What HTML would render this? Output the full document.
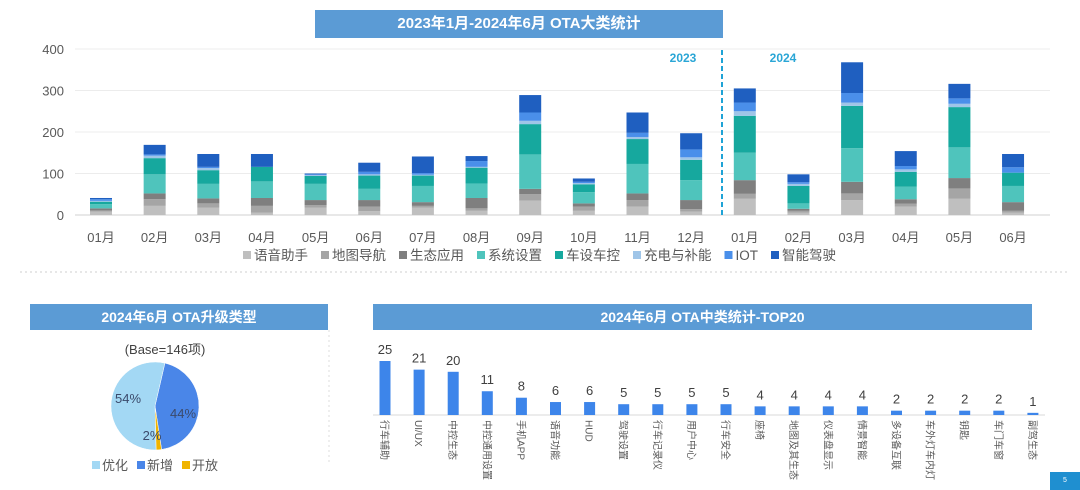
<!DOCTYPE html>
<html><head><meta charset="utf-8">
<style>
body{margin:0;width:1080px;height:490px;background:#fff;overflow:hidden;font-family:"Liberation Sans","Noto Sans CJK SC",sans-serif;position:relative}
.banner{position:absolute;background:#5b9bd5;color:#fff;font-weight:bold;text-align:center;font-size:15px}
svg{position:absolute;left:0;top:0}
</style></head><body>
<div class="banner" style="left:315px;top:10px;width:408px;height:28px;line-height:28px">2023年1月-2024年6月 OTA大类统计</div>
<div class="banner" style="left:30px;top:304px;width:298px;height:26px;line-height:26px;font-size:14px">2024年6月 OTA升级类型</div>
<div class="banner" style="left:373px;top:304px;width:659px;height:26px;line-height:26px;font-size:14px">2024年6月 OTA中类统计-TOP20</div>
<div style="position:absolute;left:1050px;top:472px;width:30px;height:18px;background:#1f8fd0;color:#fff;font-size:7px;text-align:center;line-height:18px">5</div>
<svg id="main" width="1080" height="490"></svg>
<script>
const months=["01月","02月","03月","04月","05月","06月","07月","08月","09月","10月","11月","12月","01月","02月","03月","04月","05月","06月"];
const seriesNames=["语音助手","地图导航","生态应用","系统设置","车设车控","充电与补能","IOT","智能驾驶"];
const voice=[8,22,18,6,18,9,18,10,35,10,20,8,39,6,36,20,39,6];
const mapNav=[3,16,10,16,6,11,4,6,15,10,16,6,12,4,16,7,25,4];
const eco=[5,14,12,19,12,16,9,25,13,8,16,22,33,5,28,11,25,21];
const sysSet=[10,46,35,40,39,27,39,35,83,27,71,48,66,13,81,30,74,39];
const carCtrl=[6,39,33,35,19,32,25,38,73,19,60,49,89,42,102,36,97,32];
const charge=[2,6,5,0,2,3,2,2,8,3,5,6,11,5,8,6,8,0];
const iot=[4,3,3,0,2,6,4,14,20,3,10,19,21,4,23,8,13,13];
const adas=[3,23,31,31,2,22,40,12,42,8,49,39,34,19,74,36,35,32];
const yTicks=[0,100,200,300,400];
const pieLabels=["新增","开放","优化"];
const pieValues=[44,2,54];
const topCats=["行车辅助","UI/UX","中控生态","中控通用设置","手机APP","语音功能","HUD","驾驶设置","行车记录仪","用户中心","行车安全","座椅","地图及其生态","仪表盘显示","情景智能","多设备互联","车外灯车内灯","钥匙","车门车窗","副驾生态"];
const topVals=[25,21,20,11,8,6,6,5,5,5,5,4,4,4,4,2,2,2,2,1];

const NS="http://www.w3.org/2000/svg";
const svg=document.getElementById('main');
function mk(tag,attrs,parent){const e=document.createElementNS(NS,tag);for(const k in attrs)e.setAttribute(k,attrs[k]);(parent||svg).appendChild(e);return e;}
const colors=["#bfbfbf","#a5a5a5","#7f7f7f","#4fc4bc","#16a89e","#9fc5e8","#4a8fea","#1f5fc0"];
const series=[voice,mapNav,eco,sysSet,carCtrl,charge,iot,adas];
const y0=215,yTop=49,yMax=400;
const yS=v=>y0-(v/yMax)*(y0-yTop);
const xS=i=>101+i*53.65;
yTicks.forEach(t=>{
  const g=mk('line',{x1:75,x2:1050,y1:yS(t),y2:yS(t),stroke:t==0?'#d0d0d0':'#ececec','stroke-width':1});
  
  
  const tx=mk('text',{x:64,y:yS(t)+5,'text-anchor':'end','font-size':13,fill:'#595959'});
  tx.textContent=t;
  
  
});
months.forEach((m,i)=>{
  let acc=0;
  series.forEach((s,k)=>{
    const v=s[i];if(v<=0)return;
    const r=mk('rect',{x:xS(i)-11,y:yS(acc+v),width:22,height:yS(acc)-yS(acc+v),fill:colors[k]});
    
    
    acc+=v;
  });
  const t=mk('text',{x:xS(i),y:242,'text-anchor':'middle','font-size':13,fill:'#595959'});
  t.textContent=m;
  
  
});
const dl=mk('line',{x1:722,x2:722,y1:50,y2:215,stroke:'#1fa3d6','stroke-width':2,'stroke-dasharray':'5,3'});


[["2023",683],["2024",783]].forEach(([t,x])=>{
  const e=mk('text',{x:x,y:62,'text-anchor':'middle','font-size':12,'font-weight':'bold',fill:'#2aa6d6'});
  e.textContent=t;
  
  
});
let lx=243;
seriesNames.forEach((n,k)=>{
  const r=mk('rect',{x:lx,y:251,width:8,height:8,fill:colors[k]});
  
  
  const t=mk('text',{x:lx+11,y:260,'font-size':13.5,fill:'#595959'});
  t.textContent=n;
  
  
  lx+=14+t.getComputedTextLength()+10;
});
const sep=mk('line',{x1:20,x2:1070,y1:272,y2:272,stroke:'#cfcfcf','stroke-dasharray':'2,3'});


const vsep=mk('line',{x1:329,x2:329,y1:330,y2:465,stroke:'#dcdcdc','stroke-dasharray':'2,3'});


const bt=mk('text',{x:165,y:354,'text-anchor':'middle','font-size':13,fill:'#404040'});
bt.textContent="(Base=146项)";


const pc=["#4a86e8","#f0b400","#a3d8f4"];
const cx=155,cy=406,R=44;
const tot=pieValues.reduce((a,b)=>a+b,0);
let ang=13;
pieValues.forEach((v,k)=>{
  const a0=ang*Math.PI/180,a1=(ang+v/tot*360)*Math.PI/180;
  const p=(a)=>[cx+R*Math.sin(a),cy-R*Math.cos(a)];
  const [x0,y0_]=p(a0),[x1,y1]=p(a1);
  const large=(a1-a0)>Math.PI?1:0;
  const s=mk('path',{d:`M${cx},${cy} L${x0},${y0_} A${R},${R} 0 ${large} 1 ${x1},${y1} Z`,fill:pc[k],stroke:'#fff','stroke-width':0.5});
  
  
  ang+=v/tot*360;
});
[[183,418],[152,440],[128,403]].forEach(([x,y],k)=>{
  const t=mk('text',{x:x,y:y,'text-anchor':'middle','font-size':13,fill:'#3b4a6b'});
  t.textContent=pieValues[k]+"%";
  
  
});
let px=92;
[2,0,1].forEach(k=>{
  const r=mk('rect',{x:px,y:461,width:8,height:8,fill:pc[k]});
  
  
  const t=mk('text',{x:px+10,y:470,'font-size':13,fill:'#595959'});
  t.textContent=pieLabels[k];
  
  
  px+=45;
});
const b0=415,bs=2.16;
const bx=i=>385+i*34.1;
const bl=mk('line',{x1:373,x2:1045,y1:b0,y2:b0,stroke:'#d9d9d9'});


topCats.forEach((c,i)=>{
  const h=topVals[i]*bs;
  const r=mk('rect',{x:bx(i)-5.5,y:b0-h,width:11,height:h,fill:'#3d85ea'});
  
  
  const t=mk('text',{x:bx(i),y:b0-h-7,'text-anchor':'middle','font-size':13,fill:'#404040'});
  t.textContent=topVals[i];
  
  
  const l=mk('text',{x:0,y:0,'font-size':10,fill:'#595959',transform:`translate(${bx(i)-4},${b0+5}) rotate(90)`});
  l.textContent=c;
  
  
});
</script>
</body></html>
